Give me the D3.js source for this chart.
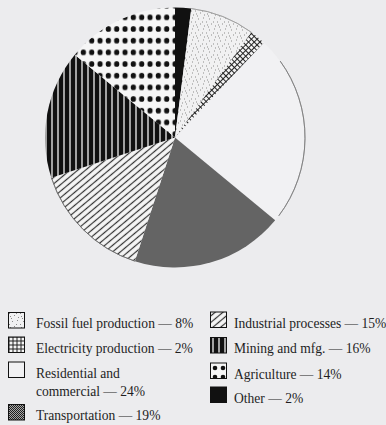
<!DOCTYPE html>
<html>
<head>
<meta charset="utf-8">
<script src="https://cdn.jsdelivr.net/npm/d3@7"></script>
<style>
  html, body { margin: 0; padding: 0; background: #ececee; }
  svg { display: block; }
  text { font-family: "Liberation Serif", "DejaVu Serif", serif; fill: #1e1e1e; }
</style>
</head>
<body>
<svg id="chart" width="386" height="425"></svg>
<script>
// Sources of methane emissions, clockwise from 12 o'clock
const categories = ["Other", "Fossil fuel production", "Electricity production",
  "Residential and commercial", "Transportation", "Industrial processes",
  "Mining and mfg.", "Agriculture"];
const shares = [2, 8, 2, 24, 19, 15, 16, 14];

// Legend: two columns, each entry may wrap onto two lines
const legendCol1 = ["Fossil fuel production", "Electricity production", "Residential and commercial", "Transportation"];
const legendCol2 = ["Industrial processes", "Mining and mfg.", "Agriculture", "Other"];
const legendLines = {
  "Fossil fuel production": ["Fossil fuel production — 8%"],
  "Electricity production": ["Electricity production — 2%"],
  "Residential and commercial": ["Residential and", "commercial — 24%"],
  "Transportation": ["Transportation — 19%"],
  "Industrial processes": ["Industrial processes — 15%"],
  "Mining and mfg.": ["Mining and mfg. — 16%"],
  "Agriculture": ["Agriculture — 14%"],
  "Other": ["Other — 2%"]
};

const svg = d3.select("#chart");
const defs = svg.append("defs");

// ---- fill patterns ----
function pattern(id, w, h, opts = {}) {
  const p = defs.append("pattern").attr("id", id)
    .attr("patternUnits", "userSpaceOnUse")
    .attr("width", w).attr("height", h)
    .attr("x", opts.x || 0).attr("y", opts.y || 0);
  if (opts.transform) p.attr("patternTransform", opts.transform);
  return p;
}

// light stipple
const stip = pattern("p-fossil", 11, 11);
stip.append("rect").attr("width", 11).attr("height", 11).attr("fill", "#f1f1f2");
[[1,2],[6,1],[9,5],[3,7],[7,9],[0,10],[5,5],[10,8]].forEach(([x, y]) =>
  stip.append("rect").attr("x", x).attr("y", y).attr("width", 1).attr("height", 1).attr("fill", "#8a8a8a"));

// diagonal crosshatch
const xh = pattern("p-elec", 4, 4, { transform: "rotate(45)" });
xh.append("rect").attr("width", 4).attr("height", 4).attr("fill", "#f4f4f4");
xh.append("line").attr("x1", 0).attr("y1", 0.5).attr("x2", 4).attr("y2", 0.5).attr("stroke", "#222").attr("stroke-width", 1);
xh.append("line").attr("x1", 0.5).attr("y1", 0).attr("x2", 0.5).attr("y2", 4).attr("stroke", "#222").attr("stroke-width", 1);

// square grid for the legend swatch
const grid = pattern("p-elec-grid", 4, 4, { x: 0.5, y: 0.5 });
grid.append("rect").attr("width", 4).attr("height", 4).attr("fill", "#f4f4f4");
grid.append("line").attr("x1", 0).attr("y1", 0.5).attr("x2", 4).attr("y2", 0.5).attr("stroke", "#222");
grid.append("line").attr("x1", 0.5).attr("y1", 0).attr("x2", 0.5).attr("y2", 4).attr("stroke", "#222");

// dense checker
const chk = pattern("p-trans", 2, 2);
chk.append("rect").attr("width", 2).attr("height", 2).attr("fill", "#a8a8a8");
chk.append("rect").attr("x", 0).attr("y", 0).attr("width", 1).attr("height", 1).attr("fill", "#202020");
chk.append("rect").attr("x", 1).attr("y", 1).attr("width", 1).attr("height", 1).attr("fill", "#202020");

// diagonal hatch
const hatch = pattern("p-ind", 5, 5, { transform: "rotate(-40)" });
hatch.append("rect").attr("width", 5).attr("height", 5).attr("fill", "#f6f6f6");
hatch.append("line").attr("x1", 0).attr("y1", 2.5).attr("x2", 5).attr("y2", 2.5).attr("stroke", "#333").attr("stroke-width", 1.2);

// vertical bars
const bars = pattern("p-mine", 6, 6);
bars.append("rect").attr("width", 6).attr("height", 6).attr("fill", "#111");
bars.append("line").attr("x1", 3).attr("y1", 0).attr("x2", 3).attr("y2", 6).attr("stroke", "#f0f0f0").attr("stroke-width", 1.3);

// large dots
const dots = pattern("p-agri", 8.33, 11.67, { x: 95.8, y: 60.8 });
dots.append("rect").attr("width", 8.33).attr("height", 11.67).attr("fill", "#f6f6f6");
dots.append("ellipse").attr("cx", 4.17).attr("cy", 5.83).attr("rx", 2.6).attr("ry", 2.8).attr("fill", "#111");

const fills = {
  "Other": "#111",
  "Fossil fuel production": "url(#p-fossil)",
  "Electricity production": "url(#p-elec)",
  "Residential and commercial": "#f1f1f3",
  "Transportation": "url(#p-trans)",
  "Industrial processes": "url(#p-ind)",
  "Mining and mfg.": "url(#p-mine)",
  "Agriculture": "url(#p-agri)"
};
const swatchFills = Object.assign({}, fills, {
  "Electricity production": "url(#p-elec-grid)",
  "Agriculture": "url(#p-agri-sw)"
});
const dsw = pattern("p-agri-sw", 8, 9, { x: 211, y: 364 });
dsw.append("rect").attr("width", 8).attr("height", 9).attr("fill", "#f6f6f6");
dsw.append("circle").attr("cx", 4).attr("cy", 4).attr("r", 2.3).attr("fill", "#111");

// ---- pie ----
const cx = 175, cy = 137.5, r = 130;
const data = categories.map((c, i) => ({ cat: c, value: shares[i] }));
const pie = d3.pie().sort(null).value(d => d.value).startAngle(0).endAngle(2 * Math.PI);
const arcs = pie(data);
const arc = d3.arc().innerRadius(0).outerRadius(r);

const g = svg.append("g").attr("transform", `translate(${cx},${cy})`);
g.selectAll("path.slice").data(arcs).join("path")
  .attr("class", "slice")
  .attr("d", arc)
  .attr("fill", d => fills[d.data.cat]);

// thin rim lines on the lighter slices
const rim = d3.arc().innerRadius(r).outerRadius(r);
const byCat = Object.fromEntries(arcs.map(a => [a.data.cat, a]));
const deg = Math.PI / 180;
const rimSpans = [
  { s: byCat["Fossil fuel production"].startAngle, e: byCat["Fossil fuel production"].endAngle, c: "#999", w: 0.7 },
  { s: 54 * deg, e: 127 * deg, c: "#777", w: 0.7 },
  { s: byCat["Industrial processes"].startAngle, e: byCat["Industrial processes"].endAngle, c: "#666", w: 0.7 }
];
g.selectAll("path.rim").data(rimSpans).join("path")
  .attr("class", "rim")
  .attr("d", d => rim({ startAngle: d.s, endAngle: d.e }))
  .attr("fill", "none").attr("stroke", d => d.c).attr("stroke-width", d => d.w);

// ---- legend ----
// The serif face is set slightly condensed horizontally.
const squeeze = 0.875;
function legendColumn(names, sx, tx, baselines) {
  names.forEach((name, i) => {
    const b = baselines[i];
    svg.append("rect")
      .attr("x", sx + 0.5).attr("y", b - 16 + 0.5)
      .attr("width", 16).attr("height", 15.5)
      .attr("fill", swatchFills[name])
      .attr("stroke", "#111").attr("stroke-width", 1);
    const t = svg.append("text")
      .attr("transform", `translate(${tx},${b}) scale(${squeeze},1)`)
      .attr("font-size", 15.5);
    legendLines[name].forEach((ln, j) => {
      t.append("tspan").attr("x", 0).attr("dy", j === 0 ? 0 : 19).text(ln);
    });
  });
}
legendColumn(legendCol1, 8, 36, [328, 352.5, 377.5, 420]);
legendColumn(legendCol2, 210, 234, [327.5, 353, 378.5, 402.5]);
</script>
</body>
</html>
